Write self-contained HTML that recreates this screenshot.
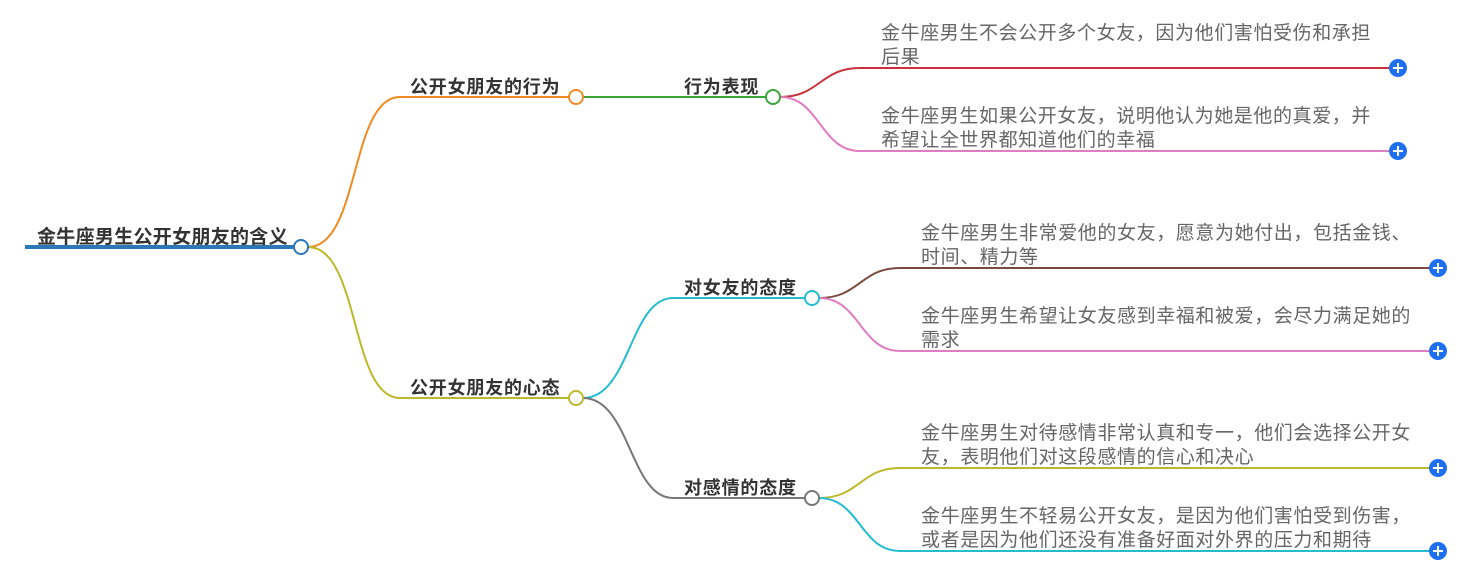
<!DOCTYPE html>
<html><head><meta charset="utf-8"><style>
html,body{margin:0;padding:0;background:#fff;width:1467px;height:570px;overflow:hidden}
text{font-family:"Liberation Sans","Noto Sans CJK SC",sans-serif}
.b{font-weight:bold;font-size:18px;fill:#333;letter-spacing:0.8px}
.l{font-size:19px;fill:#666;letter-spacing:0.6px}
</style></head><body>
<svg width="1467" height="570" xmlns="http://www.w3.org/2000/svg">
<g fill="none" stroke-width="2">
<path d="M25 247H294" stroke="#2a78b8" stroke-width="4"/>
<path d="M308 247C360 247 350 97 400 97H569" stroke="#f08a24"/>
<path d="M308 247C360 247 350 398 400 398H569" stroke="#bdb82a"/>
<path d="M583 97H766" stroke="#3aa63a"/>
<path d="M780 97C820 97 820 68 860 68H1390" stroke="#c8323c"/>
<path d="M780 97C820 97 820 151 860 151H1390" stroke="#e07cc0"/>
<path d="M583 398C630 398 630 298 673 298H805" stroke="#26bcd0"/>
<path d="M583 398C630 398 630 498 673 498H805" stroke="#777"/>
<path d="M819 298C860 298 860 268 900 268H1430" stroke="#7a4a3e"/>
<path d="M819 298C860 298 860 351 900 351H1430" stroke="#e07cc0"/>
<path d="M819 498C860 498 860 468 900 468H1430" stroke="#bdb82a"/>
<path d="M819 498C860 498 860 551 900 551H1430" stroke="#26bcd0"/>
</g>
<g fill="#fff" stroke-width="2">
<circle cx="301" cy="247" r="7" stroke="#2a78b8"/>
<circle cx="576" cy="97" r="7" stroke="#f08a24"/>
<circle cx="576" cy="398" r="7" stroke="#bdb82a"/>
<circle cx="773" cy="97" r="7" stroke="#3aa63a"/>
<circle cx="812" cy="298" r="7" stroke="#26bcd0"/>
<circle cx="812" cy="498" r="7" stroke="#777"/>
</g>
<g>
<g transform="translate(1398,68)"><circle r="9" fill="#1e6ff0"/><path d="M-5 0H5M0 -5V5" stroke="#fff" stroke-width="2"/></g>
<g transform="translate(1398,151)"><circle r="9" fill="#1e6ff0"/><path d="M-5 0H5M0 -5V5" stroke="#fff" stroke-width="2"/></g>
<g transform="translate(1438,268)"><circle r="9" fill="#1e6ff0"/><path d="M-5 0H5M0 -5V5" stroke="#fff" stroke-width="2"/></g>
<g transform="translate(1438,351)"><circle r="9" fill="#1e6ff0"/><path d="M-5 0H5M0 -5V5" stroke="#fff" stroke-width="2"/></g>
<g transform="translate(1438,468)"><circle r="9" fill="#1e6ff0"/><path d="M-5 0H5M0 -5V5" stroke="#fff" stroke-width="2"/></g>
<g transform="translate(1438,551)"><circle r="9" fill="#1e6ff0"/><path d="M-5 0H5M0 -5V5" stroke="#fff" stroke-width="2"/></g>
</g>
<text class="b" x="37" y="243" style="font-size:19px;letter-spacing:0.3px">金牛座男生公开女朋友的含义</text>
<text class="b" x="410" y="93">公开女朋友的行为</text>
<text class="b" x="410" y="394">公开女朋友的心态</text>
<text class="b" x="684" y="93">行为表现</text>
<text class="b" x="684" y="294">对女友的态度</text>
<text class="b" x="684" y="494">对感情的态度</text>
<text class="l" x="881" y="39">金牛座男生不会公开多个女友，因为他们害怕受伤和承担</text>
<text class="l" x="881" y="63">后果</text>
<text class="l" x="881" y="122">金牛座男生如果公开女友，说明他认为她是他的真爱，并</text>
<text class="l" x="881" y="146">希望让全世界都知道他们的幸福</text>
<text class="l" x="921" y="239">金牛座男生非常爱他的女友，愿意为她付出，包括金钱、</text>
<text class="l" x="921" y="263">时间、精力等</text>
<text class="l" x="921" y="322">金牛座男生希望让女友感到幸福和被爱，会尽力满足她的</text>
<text class="l" x="921" y="346">需求</text>
<text class="l" x="921" y="439">金牛座男生对待感情非常认真和专一，他们会选择公开女</text>
<text class="l" x="921" y="463">友，表明他们对这段感情的信心和决心</text>
<text class="l" x="921" y="522">金牛座男生不轻易公开女友，是因为他们害怕受到伤害，</text>
<text class="l" x="921" y="546">或者是因为他们还没有准备好面对外界的压力和期待</text>
</svg>
</body></html>
